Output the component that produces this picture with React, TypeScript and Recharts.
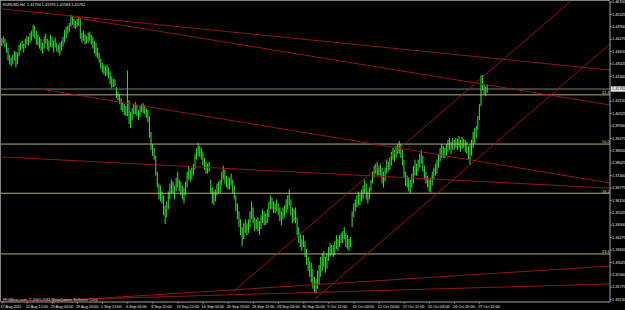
import React from 'react';
import { ComposedChart, Bar, XAxis, YAxis, ReferenceLine } from 'recharts';

// H4 bars: 17 Aug 2011 20:00 ... 28 Oct 2011 08:00
const highs = [
  1.4433,
  1.4440, 1.4430, 1.4410, 1.4385, 1.4350, 1.4335,
  1.4350, 1.4370, 1.4365, 1.4360, 1.4400, 1.4410,
  1.4420, 1.4405, 1.4430, 1.4445, 1.4440, 1.4460,
  1.4470, 1.4500, 1.4495, 1.4470, 1.4450, 1.4440,
  1.4430, 1.4410, 1.4440, 1.4455, 1.4430, 1.4420,
  1.4450, 1.4440, 1.4420, 1.4435, 1.4410, 1.4400,
  1.4410, 1.4420, 1.4440, 1.4475, 1.4490, 1.4495,
  1.4510, 1.4550, 1.4545, 1.4530, 1.4520, 1.4530,
  1.4540, 1.4535, 1.4460, 1.4470, 1.4455, 1.4445,
  1.4460, 1.4465, 1.4450, 1.4440, 1.4420, 1.4410,
  1.4385, 1.4360, 1.4330, 1.4310, 1.4300, 1.4290,
  1.4300, 1.4285, 1.4265, 1.4240, 1.4230, 1.4225,
  1.4185, 1.4160, 1.4150, 1.4130, 1.4110, 1.4100,
  1.4090, 1.4270, 1.4120, 1.4060, 1.4080, 1.4100,
  1.4110, 1.4095, 1.4070, 1.4090, 1.4100, 1.4105,
  1.4095, 1.4080, 1.4070, 1.4040, 1.3960, 1.3900,
  1.3880, 1.3840, 1.3760, 1.3700, 1.3690, 1.3660,
  1.3640, 1.3590, 1.3610, 1.3660, 1.3700, 1.3720,
  1.3710, 1.3690, 1.3730, 1.3760, 1.3720, 1.3710,
  1.3690, 1.3680, 1.3710, 1.3760, 1.3790, 1.3770,
  1.3780, 1.3800, 1.3850, 1.3880, 1.3905, 1.3890,
  1.3880, 1.3860, 1.3830, 1.3810, 1.3800, 1.3810,
  1.3720, 1.3680, 1.3660, 1.3670, 1.3700, 1.3710,
  1.3720, 1.3760, 1.3790, 1.3770, 1.3740, 1.3730,
  1.3730, 1.3750, 1.3720, 1.3690, 1.3640, 1.3600,
  1.3560, 1.3520, 1.3480, 1.3500, 1.3520, 1.3500,
  1.3520, 1.3560, 1.3610, 1.3580, 1.3530, 1.3520,
  1.3530, 1.3510, 1.3540, 1.3570, 1.3560, 1.3550,
  1.3570, 1.3610, 1.3640, 1.3630, 1.3610, 1.3600,
  1.3620, 1.3600, 1.3580, 1.3560, 1.3580, 1.3590,
  1.3620, 1.3640, 1.3670, 1.3620, 1.3580, 1.3570,
  1.3580, 1.3530, 1.3480, 1.3450, 1.3420, 1.3440,
  1.3410, 1.3370, 1.3330, 1.3310, 1.3300, 1.3270,
  1.3230, 1.3220, 1.3260, 1.3290, 1.3330, 1.3350,
  1.3360, 1.3330, 1.3350, 1.3380, 1.3400, 1.3390,
  1.3390, 1.3410, 1.3440, 1.3420, 1.3440, 1.3450,
  1.3460, 1.3480, 1.3450, 1.3440, 1.3420, 1.3430,
  1.3560, 1.3600, 1.3620, 1.3640, 1.3660, 1.3650,
  1.3670, 1.3690, 1.3720, 1.3700, 1.3660, 1.3680,
  1.3720, 1.3760, 1.3790, 1.3800, 1.3810, 1.3790,
  1.3800, 1.3780, 1.3760, 1.3780, 1.3820, 1.3810,
  1.3830, 1.3860, 1.3880, 1.3870, 1.3890, 1.3900,
  1.3915, 1.3900, 1.3870, 1.3820, 1.3760, 1.3740,
  1.3730, 1.3720, 1.3750, 1.3790, 1.3820, 1.3800,
  1.3820, 1.3850, 1.3870, 1.3840, 1.3790, 1.3760,
  1.3740, 1.3720, 1.3730, 1.3760, 1.3780, 1.3800,
  1.3820, 1.3850, 1.3880, 1.3900, 1.3890, 1.3880,
  1.3900, 1.3920, 1.3930, 1.3910, 1.3930, 1.3920,
  1.3930, 1.3925, 1.3940, 1.3920, 1.3935, 1.3925,
  1.3920, 1.3910, 1.3890, 1.3900, 1.3920, 1.3960,
  1.3980, 1.3990, 1.4040, 1.4100, 1.4245, 1.4247,
  1.4200, 1.4190, 1.4198,
];

const lows = [
  1.4393,
  1.4405, 1.4390, 1.4360, 1.4320, 1.4300, 1.4290,
  1.4300, 1.4320, 1.4285, 1.4300, 1.4340, 1.4370,
  1.4380, 1.4360, 1.4385, 1.4400, 1.4395, 1.4410,
  1.4420, 1.4440, 1.4430, 1.4400, 1.4395, 1.4380,
  1.4370, 1.4355, 1.4380, 1.4405, 1.4375, 1.4365,
  1.4390, 1.4385, 1.4360, 1.4385, 1.4365, 1.4360,
  1.4345, 1.4370, 1.4390, 1.4410, 1.4430, 1.4455,
  1.4465, 1.4490, 1.4500, 1.4485, 1.4480, 1.4490,
  1.4495, 1.4430, 1.4410, 1.4420, 1.4400, 1.4405,
  1.4410, 1.4420, 1.4400, 1.4380, 1.4355, 1.4340,
  1.4330, 1.4310, 1.4280, 1.4260, 1.4250, 1.4240,
  1.4245, 1.4230, 1.4200, 1.4180, 1.4185, 1.4190,
  1.4130, 1.4120, 1.4100, 1.4070, 1.4060, 1.4045,
  1.4040, 1.4040, 1.4000, 1.3980, 1.4020, 1.4050,
  1.4050, 1.4040, 1.4020, 1.4035, 1.4060, 1.4055,
  1.4050, 1.4030, 1.4010, 1.3930, 1.3870, 1.3840,
  1.3820, 1.3740, 1.3680, 1.3620, 1.3610, 1.3600,
  1.3540, 1.3495, 1.3530, 1.3570, 1.3620, 1.3650,
  1.3650, 1.3620, 1.3660, 1.3680, 1.3660, 1.3640,
  1.3620, 1.3600, 1.3640, 1.3680, 1.3720, 1.3710,
  1.3720, 1.3740, 1.3770, 1.3820, 1.3840, 1.3835,
  1.3820, 1.3790, 1.3770, 1.3750, 1.3750, 1.3760,
  1.3650, 1.3600, 1.3590, 1.3610, 1.3640, 1.3650,
  1.3650, 1.3690, 1.3720, 1.3700, 1.3680, 1.3670,
  1.3670, 1.3690, 1.3650, 1.3620, 1.3560, 1.3520,
  1.3480, 1.3440, 1.3385, 1.3420, 1.3450, 1.3440,
  1.3450, 1.3480, 1.3520, 1.3500, 1.3460, 1.3470,
  1.3460, 1.3440, 1.3470, 1.3500, 1.3490, 1.3490,
  1.3500, 1.3530, 1.3570, 1.3570, 1.3550, 1.3550,
  1.3560, 1.3540, 1.3510, 1.3490, 1.3520, 1.3530,
  1.3550, 1.3570, 1.3590, 1.3540, 1.3500, 1.3510,
  1.3500, 1.3440, 1.3400, 1.3380, 1.3360, 1.3380,
  1.3330, 1.3290, 1.3260, 1.3230, 1.3200, 1.3170,
  1.3150, 1.3145, 1.3170, 1.3190, 1.3230, 1.3260,
  1.3280, 1.3250, 1.3270, 1.3310, 1.3330, 1.3340,
  1.3330, 1.3340, 1.3370, 1.3360, 1.3380, 1.3400,
  1.3400, 1.3420, 1.3380, 1.3370, 1.3360, 1.3380,
  1.3480, 1.3530, 1.3560, 1.3580, 1.3590, 1.3590,
  1.3610, 1.3620, 1.3650, 1.3620, 1.3600, 1.3620,
  1.3660, 1.3700, 1.3730, 1.3750, 1.3740, 1.3740,
  1.3740, 1.3700, 1.3680, 1.3710, 1.3750, 1.3760,
  1.3770, 1.3790, 1.3820, 1.3810, 1.3830, 1.3850,
  1.3850, 1.3830, 1.3790, 1.3730, 1.3690, 1.3680,
  1.3660, 1.3650, 1.3680, 1.3700, 1.3740, 1.3740,
  1.3760, 1.3780, 1.3800, 1.3760, 1.3720, 1.3700,
  1.3680, 1.3660, 1.3655, 1.3690, 1.3720, 1.3740,
  1.3750, 1.3780, 1.3810, 1.3830, 1.3830, 1.3830,
  1.3840, 1.3860, 1.3870, 1.3850, 1.3870, 1.3870,
  1.3880, 1.3870, 1.3880, 1.3860, 1.3875, 1.3880,
  1.3860, 1.3850, 1.3820, 1.3795, 1.3840, 1.3880,
  1.3900, 1.3930, 1.3970, 1.4020, 1.4090, 1.4170,
  1.4150, 1.4140, 1.4158,
];

const dateTickBars = [0, 16, 32, 48, 64, 80, 96, 112, 128, 144, 160, 176, 192, 208, 224, 240, 256, 272, 288, 304];
const dateLabels = [
  '17 Aug 2011', '22 Aug 12:00', '25 Aug 04:00', '29 Aug 20:00', '1 Sep 12:00', '6 Sep 04:00',
  '8 Sep 20:00', '13 Sep 12:00', '16 Sep 04:00', '20 Sep 20:00', '23 Sep 12:00', '28 Sep 04:00',
  '30 Sep 20:00', '5 Oct 12:00', '10 Oct 04:00', '12 Oct 20:00', '17 Oct 12:00', '20 Oct 04:00',
  '24 Oct 20:00', '27 Oct 12:00',
];

const priceTicks = [
  1.4615, 1.45525, 1.449, 1.44275, 1.4365, 1.43025, 1.424, 1.4115, 1.40525, 1.399,
  1.39275, 1.3865, 1.38025, 1.374, 1.36775, 1.3615, 1.35525, 1.349, 1.34275, 1.3365,
  1.33025, 1.324, 1.31775, 1.3115,
];

const lastPrice = 1.41762;
const headerText = 'EURUSD,H4  1.41734 1.41976 1.41584 1.41762';
const copyrightText = 'FFGBeat.com, \u00a9 2001-2011 MetaQuotes Software Corp.';

const fibLevels = ['61.8', '50.0', '38.2', '23.6'];
const fibPrices = [1.4147, 1.3899, 1.3651, 1.3345];

// trend lines: [barStart, priceStart, barEnd, priceEnd]
const trendLines = [
  [0, 1.458, 386.9, 1.4272],
  [44.6, 1.4539, 386.9, 1.4096],
  [24.2, 1.4177, 386.9, 1.3703],
  [0, 1.3834, 386.9, 1.3677],
  [30.6, 1.3106, 386.9, 1.3284],
  [0, 1.3106, 386.9, 1.3194],
  [147.1, 1.3155, 361.9, 1.4618],
  [199.3, 1.3118, 386.9, 1.4403],
];

const data = highs.map((h, i) => ({ i, range: [lows[i], h] }));

const FONT = '"Liberation Sans", Arial, sans-serif';
const FS = 3.8;

const BarShape = (props: any) => {
  const { x, y, width, height } = props;
  if (x == null || y == null) return null;
  const cx = x + width / 2;
  return <rect x={cx - 0.5} y={y} width={1.05} height={Math.max(height, 1)} fill="#36d836" />;
};

const XTick = (props: any) => {
  const { x, y, payload } = props;
  const idx = dateTickBars.indexOf(payload.value);
  return (
    <g>
      <line x1={x} x2={x} y1={y} y2={y + 1.5} stroke="#c8c8c8" strokeWidth={0.7} />
      <text x={x - 1.5} y={y + 6.3} fontSize={FS} fill="#e6e6e6" fontFamily={FONT} textAnchor="start">
        {idx >= 0 ? dateLabels[idx] : ''}
      </text>
    </g>
  );
};

const YTick = (props: any) => {
  const { x, y, payload } = props;
  return (
    <text x={x} y={y + 1.3} fontSize={FS} fill="#e6e6e6" fontFamily={FONT} textAnchor="start">
      {payload.value.toFixed(5)}
    </text>
  );
};

const PriceBox = (props: any) => {
  const vb = props.viewBox || {};
  const xr = (vb.x || 0) + (vb.width || 0);
  const y = vb.y || 0;
  return (
    <g>
      <rect x={xr + 1} y={y - 2.6} width={15} height={5.2} fill="#e8e8e8" stroke="#a0a0a0" strokeWidth={0.4} />
      <text x={xr + 2} y={y + 1.3} fontSize={FS} fill="#000" fontFamily={FONT}>
        {lastPrice.toFixed(5)}
      </text>
    </g>
  );
};

const fibLabel = (text: string) => (props: any) => {
  const vb = props.viewBox || {};
  const xr = (vb.x || 0) + (vb.width || 0);
  const y = vb.y || 0;
  return (
    <text x={xr - 0.5} y={y - 0.6} fontSize={FS} fill="#d8d080" fontFamily={FONT} textAnchor="end">
      {text}
    </text>
  );
};

export default function App() {
  return (
    <div style={{ position: 'absolute', left: 0, top: 0, width: 625, height: 310, background: '#000', overflow: 'hidden' }}>
      <ComposedChart
        width={625}
        height={310}
        data={data}
        margin={{ top: 1, right: 0, bottom: 0, left: 1 }}
        barCategoryGap={0}
      >
        <XAxis
          dataKey="i"
          type="number"
          domain={[-0.64, 386.96]}
          allowDataOverflow
          ticks={dateTickBars}
          interval={0}
          height={8}
          tickSize={0}
          tickMargin={0}
          tickLine={false}
          axisLine={{ stroke: '#c8c8c8', strokeWidth: 0.8 }}
          tick={<XTick />}
        />
        <YAxis
          orientation="right"
          type="number"
          domain={[1.31029, 1.462]}
          allowDataOverflow
          ticks={priceTicks}
          interval={0}
          width={15}
          tickSize={2}
          tickMargin={0}
          tickLine={{ stroke: '#c8c8c8', strokeWidth: 0.6 }}
          axisLine={{ stroke: '#c8c8c8', strokeWidth: 0.8 }}
          tick={<YTick />}
        />
        {fibPrices.map((p, k) => (
          <ReferenceLine key={'f' + k} y={p} stroke="#c8c080" strokeWidth={0.9} label={fibLabel(fibLevels[k])} />
        ))}
        <ReferenceLine y={lastPrice} stroke="#8c8c8c" strokeWidth={0.9} label={PriceBox} />
        {trendLines.map((t, k) => (
          <ReferenceLine
            key={'t' + k}
            segment={[{ x: t[0], y: t[1] }, { x: t[2], y: t[3] }]}
            stroke="#a01818"
            strokeWidth={0.9}
            ifOverflow="hidden"
          />
        ))}
        <Bar dataKey="range" barSize={1} shape={<BarShape />} isAnimationActive={false} />
      </ComposedChart>
      <svg width={625} height={310} style={{ position: 'absolute', left: 0, top: 0, pointerEvents: 'none' }}>
        <line x1={0} x2={610} y1={0.5} y2={0.5} stroke="#a0a0a0" strokeWidth={0.8} />
        <line x1={0.5} x2={0.5} y1={0} y2={302} stroke="#a0a0a0" strokeWidth={0.8} />
        <text x={3} y={5.6} fontSize={FS} fill="#e6e6e6" fontFamily={FONT} style={{ whiteSpace: 'pre' }}>
          {headerText}
        </text>
        <text x={3} y={300.6} fontSize={FS} fill="#d8d8d8" fontFamily={FONT}>
          {copyrightText}
        </text>
      </svg>
    </div>
  );
}
